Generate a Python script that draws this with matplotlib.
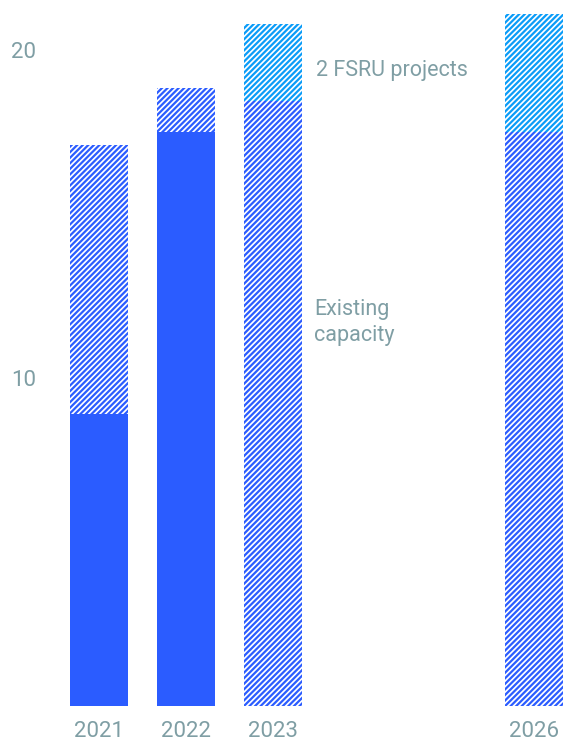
import matplotlib.pyplot as plt

years = [2021, 2022, 2023, 2026]
utilised = [8.9, 17.5, 0.0, 0.0]
capacity = [17.1, 18.85, 18.45, 17.5]
fsru = [0.0, 0.0, 2.35, 3.6]
y_ticks = [10, 20]

solid_blue = '#2b5cff'
light_blue = '#0a9cf8'
text_grey = '#7f9ea4'


def main():
    plt.rcParams['font.family'] = ['Roboto', 'DejaVu Sans']
    plt.rcParams['hatch.linewidth'] = 1.6

    fig = plt.figure(figsize=(5.64, 7.42), dpi=100)
    ax = fig.add_axes([40 / 564, 36 / 742, 524 / 564, 706 / 742])

    width = 0.667
    ax.bar(years, utilised, width=width, color=solid_blue, linewidth=0)
    hatched = [c - u for c, u in zip(capacity, utilised)]
    ax.bar(years, hatched, width=width, bottom=utilised, facecolor='white',
           edgecolor=solid_blue, hatch='//////', linewidth=0)
    ax.bar(years, fsru, width=width, bottom=capacity, facecolor='white',
           edgecolor=light_blue, hatch='//////', linewidth=0)

    ax.set_xlim(2021 - 59 / 87, 2021 + 465 / 87)
    ax.set_ylim(0, 706 / 32.8)
    ax.set_xticks(years)
    ax.set_xticklabels([str(y) for y in years])
    ax.set_yticks(y_ticks)
    ax.tick_params(length=0, labelsize=16, colors=text_grey)
    ax.tick_params(axis='x', pad=11)
    ax.tick_params(axis='y', pad=3)
    for s in ax.spines.values():
        s.set_visible(False)

    ax.text(2023 + 0.49, 19.38, '2 FSRU projects', fontsize=15.5,
            color=text_grey, va='center', ha='left')
    ax.text(2023 + 0.47, 11.7, 'Existing\ncapacity', fontsize=15.5,
            color=text_grey, va='center', ha='left', linespacing=1.3)

    plt.savefig('out.png', dpi=100)


if __name__ == "__main__":
    main()
